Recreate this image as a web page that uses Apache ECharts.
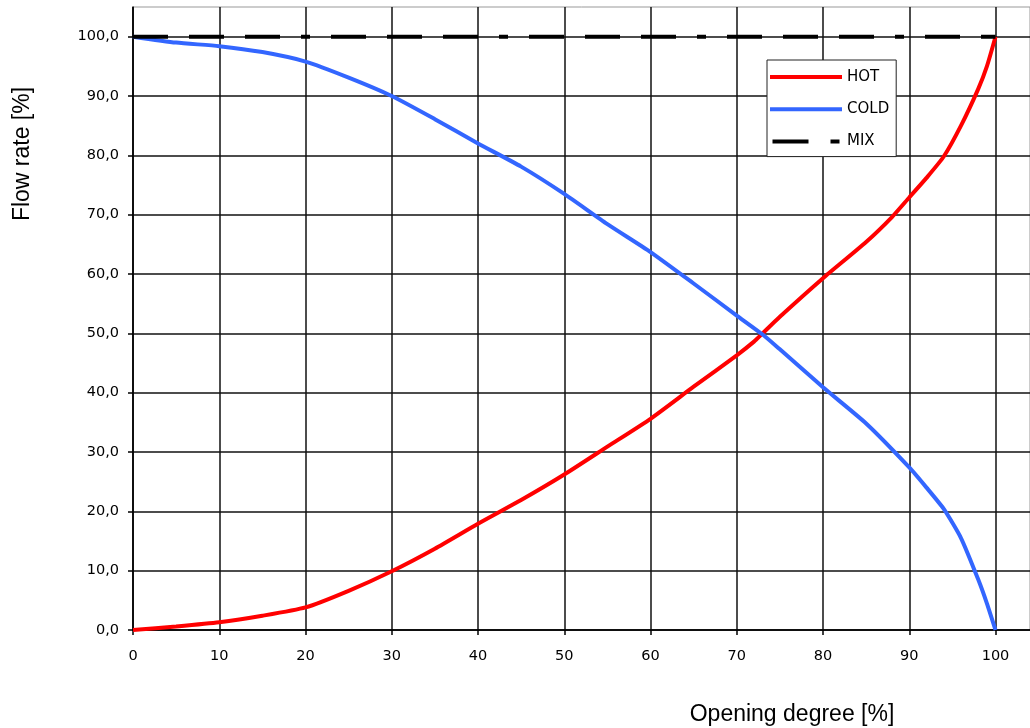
<!DOCTYPE html>
<html>
<head>
<meta charset="utf-8">
<script src="https://cdn.jsdelivr.net/npm/echarts@6/dist/echarts.min.js"></script>
<style>
html,body{margin:0;padding:0;background:#fff;}
#chart{width:1030px;height:728px;}
</style>
</head>
<body>
<div id="chart"></div>
<script>
// Opening degree [%] and flow rates [%]
const hotX  = [0, 5, 10, 15, 20, 25, 30, 35, 40, 45, 50, 55, 60, 65, 70, 72, 73, 75, 80, 85, 88, 90, 92, 94, 96, 98, 99, 100];
const hotY  = [0, 0.6, 1.3, 2.4, 3.8, 6.6, 9.9, 13.7, 17.9, 21.9, 26.2, 30.9, 35.6, 41.0, 46.3, 48.6, 50.0, 52.8, 59.3, 65.4, 69.6, 72.9, 76.2, 79.8, 85.0, 91.2, 95.0, 100];
const coldX = [0, 5, 10, 15, 20, 25, 30, 35, 40, 45, 50, 55, 60, 65, 70, 73, 75, 80, 85, 90, 92, 94, 96, 98, 99, 100];
const coldY = [100, 99.0, 98.4, 97.4, 95.8, 93.1, 90.0, 86.1, 82.0, 78.1, 73.5, 68.4, 63.7, 58.4, 53.0, 49.8, 47.3, 40.9, 34.8, 27.4, 24.0, 20.4, 15.5, 8.5, 4.5, 0];
const mixX  = [0, 10, 20, 30, 40, 50, 60, 70, 80, 90, 100];
const mixY  = [100, 100, 100, 100, 100, 100, 100, 100, 100, 100, 100];
const xTickValues = [0, 10, 20, 30, 40, 50, 60, 70, 80, 90, 100];
const xTickLabels = ['0', '10', '20', '30', '40', '50', '60', '70', '80', '90', '100'];
const yTickValues = [0, 10, 20, 30, 40, 50, 60, 70, 80, 90, 100];
const yTickLabels = ['0,0', '10,0', '20,0', '30,0', '40,0', '50,0', '60,0', '70,0', '80,0', '90,0', '100,0'];
const seriesNames = ['HOT', 'COLD', 'MIX'];

function zip(xs, ys) { return xs.map((x, i) => [x, ys[i]]); }

const chart = echarts.init(document.getElementById('chart'), null, {renderer: 'canvas'});
const splitColors = [];
for (let i = 0; i < yTickValues.length; i++) splitColors.push('#111');
splitColors.push('#999');

chart.setOption({
  animation: false,
  backgroundColor: '#fff',
  grid: {
    left: 133, top: 7, right: 0, bottom: 98,
    outerBoundsMode: 'none', containLabel: false,
    show: true, borderColor: '#999', borderWidth: 1, backgroundColor: '#fff'
  },
  xAxis: {
    type: 'value', min: 0, max: 104, interval: 10,
    axisLine: {show: true, lineStyle: {color: '#000', width: 1.5}},
    axisTick: {show: true, length: 5, customValues: xTickValues, lineStyle: {color: '#000', width: 1.5}},
    axisLabel: {
      margin: 19, fontFamily: 'DejaVu Sans', fontSize: 14.5, color: '#000',
      formatter: function (v) { const i = xTickValues.indexOf(v); return i >= 0 ? xTickLabels[i] : ''; }
    },
    splitLine: {show: true, lineStyle: {color: '#111', width: 1.5}}
  },
  yAxis: {
    type: 'value', min: 0, max: 105, interval: 10,
    axisLine: {show: true, lineStyle: {color: '#000', width: 1.5}},
    axisTick: {show: true, length: 5, customValues: yTickValues, lineStyle: {color: '#000', width: 1.5}},
    axisLabel: {
      margin: 14, fontFamily: 'DejaVu Sans', fontSize: 14.5, color: '#000',
      formatter: function (v) { const i = yTickValues.indexOf(v); return i >= 0 ? yTickLabels[i] : ''; }
    },
    splitLine: {show: true, lineStyle: {color: splitColors, width: 1.5}}
  },
  legend: {
    show: true, orient: 'vertical', left: 767, top: 60,
    data: [
      {name: seriesNames[0], icon: 'rect'},
      {name: seriesNames[1], icon: 'rect'},
      {name: seriesNames[2], icon: 'path://M0,0H36V4H0Z M58,0H67V4H58Z'}
    ],
    backgroundColor: '#fff', borderColor: '#222', borderWidth: 1,
    padding: [9, 7, 7, 3],
    itemWidth: 72, itemHeight: 4, itemGap: 16.3,
    textStyle: {fontFamily: 'DejaVu Sans', fontSize: 15, color: '#000', lineHeight: 16},
    z: 10
  },
  graphic: [
    {type: 'text', x: 23, y: 154, rotation: Math.PI / 2,
     style: {text: 'Flow rate [%]', font: '23px "Liberation Sans", Arial, sans-serif', fill: '#000', textAlign: 'center', textVerticalAlign: 'middle'}},
    {type: 'text', x: 792, y: 715,
     style: {text: 'Opening degree [%]', font: '23px "Liberation Sans", Arial, sans-serif', fill: '#000', textAlign: 'center', textVerticalAlign: 'middle'}}
  ],
  series: [
    {name: seriesNames[0], type: 'line', data: zip(hotX, hotY), showSymbol: false, symbol: 'none', smooth: 0.2,
     lineStyle: {color: '#ff0000', width: 4}, itemStyle: {color: '#ff0000'}, z: 3},
    {name: seriesNames[1], type: 'line', data: zip(coldX, coldY), showSymbol: false, symbol: 'none', smooth: 0.2,
     lineStyle: {color: '#3366ff', width: 4}, itemStyle: {color: '#3366ff'}, z: 3},
    {name: seriesNames[2], type: 'line', data: zip(mixX, mixY), showSymbol: false, symbol: 'none',
     lineStyle: {color: '#000', width: 4, type: [35, 21, 35, 21, 35, 21, 9, 21]}, itemStyle: {color: '#000'}, z: 4}
  ]
});
</script>
</body>
</html>
